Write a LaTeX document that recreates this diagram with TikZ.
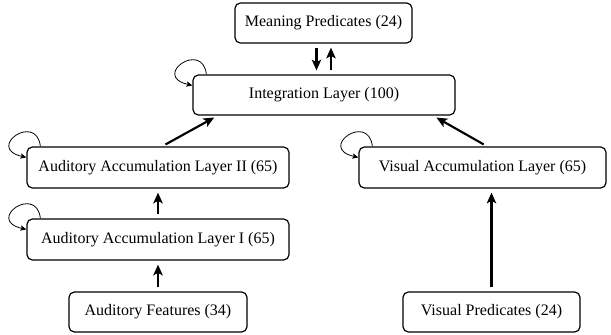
\documentclass[tikz,border=0pt]{standalone}
\usepackage{fontspec}
\setmainfont{Liberation Serif}
\usetikzlibrary{arrows.meta}
\begin{document}
\begin{tikzpicture}[x=0.75pt,y=-0.75pt,
  box/.style={draw,line width=0.9pt,rounded corners=4pt,font=\fontsize{12}{14}\selectfont,inner sep=0pt},
  flow/.style={line width=1.6pt,-{Stealth[length=8pt,width=7pt,inset=1.8pt]},shorten <=3pt,shorten >=3pt},
  selfloop/.style={line width=0.6pt,-{Stealth[length=4.5pt,width=4pt,inset=1pt]}}]
\useasboundingbox (0,0) rectangle (611,335);
\node[box,minimum width=132.75pt,minimum height=30pt] (m) at (323.5,23) {Meaning Predicates (24)};
\node[box,minimum width=196.5pt,minimum height=30pt] (i) at (324,95) {Integration Layer (100)};
\node[box,minimum width=196.5pt,minimum height=30.75pt] (a2) at (158,167.5) {Auditory Accumulation Layer II (65)};
\node[box,minimum width=196.5pt,minimum height=30.75pt] (a1) at (158,239.5) {Auditory Accumulation Layer I (65)};
\node[box,minimum width=133.5pt,minimum height=30pt] (af) at (158,312) {Auditory Features (34)};
\node[box,minimum width=185.25pt,minimum height=30.75pt] (v) at (482.5,167.5) {Visual Accumulation Layer (65)};
\node[box,minimum width=132.75pt,minimum height=30pt] (vp) at (491.5,312) {Visual Predicates (24)};
% flows
\draw[flow] ([xshift=-5.25pt]m.south) -- ([xshift=-5.25pt]m.south |- i.north);
\draw[flow] ([xshift=5.6pt]m.south |- i.north) -- ([xshift=5.6pt]m.south);
\draw[flow] (af.north) -- (a1.south);
\draw[flow] (a1.north) -- (a2.south);
\draw[flow] (vp.north) -- (vp.north |- v.south);
\draw[flow] ([xshift=3pt]a2.north) -- ([xshift=19pt]i.south west);
\draw[flow] ([xshift=3.5pt]v.north) -- ([xshift=-17pt]i.south east);
% self loops
\foreach \n in {i,a2,a1,v}{
  \draw[selfloop] ([xshift=10.5pt]\n.north west) .. controls +(-3pt,26pt) and +(-31pt,7pt) .. ([yshift=-8.25pt]\n.north west);
}
\end{tikzpicture}
\end{document}
